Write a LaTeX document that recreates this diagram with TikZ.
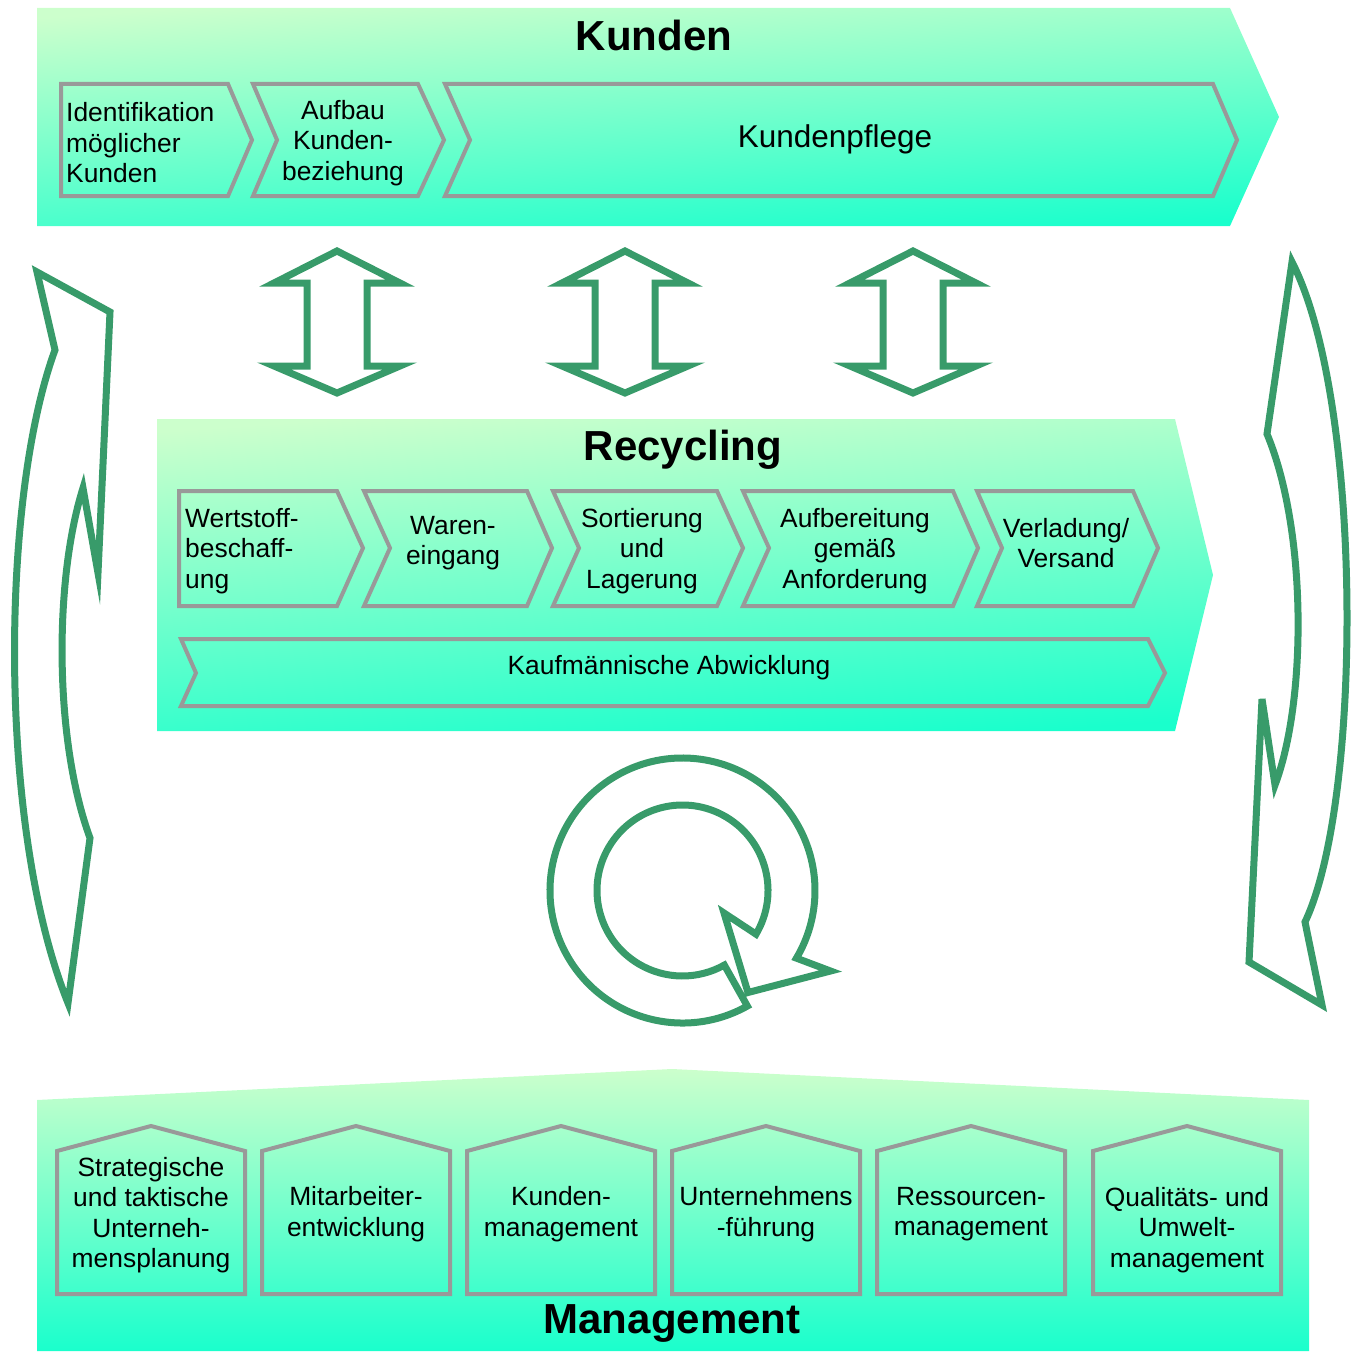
\documentclass[tikz,border=0pt]{standalone}
\usepackage{fontspec}
\setmainfont{Liberation Sans}
\usetikzlibrary{calc}
\definecolor{ringgreen}{RGB}{56,155,106}
\definecolor{boxgray}{RGB}{153,153,153}
\definecolor{bandlight}{RGB}{204,255,204}
\definecolor{banddark}{RGB}{26,255,204}
\tikzset{
	band/.style={top color=bandlight, bottom color=banddark, shading angle=4},
	stepbox/.style={draw=boxgray, line width=4pt, miter limit=10},
	flowarrow/.style={draw=ringgreen, line width=7pt, miter limit=10},
	bandtitle/.style={font=\fontsize{42}{48}\selectfont\bfseries, inner sep=0pt},
	steptext/.style={font=\fontsize{26.4}{30.5}\selectfont, align=center, inner sep=0pt},
}

\begin{document}
\begin{tikzpicture}[x=1pt,y=-1pt]
\useasboundingbox (0,0) rectangle (1356,1351);
% Kunden
\shade[band] (37,8) -- (1230,8) -- (1279,117) -- (1230,226) -- (37,226) -- cycle;
\node[bandtitle] (kunden) at (654,35) {Kunden};
\draw[stepbox] (61,84) -- (228,84) -- (252,140) -- (228,196) -- (61,196) -- cycle;
\draw[stepbox] (253,84) -- (418,84) -- (444,140) -- (418,196) -- (253,196) -- (277,140) -- cycle;
\draw[stepbox] (445,84) -- (1213,84) -- (1237,140) -- (1213,196) -- (445,196) -- (470,140) -- cycle;
\node[steptext, align=left, anchor=west] (ident) at (66,143) {Identifikation\\möglicher\\Kunden};
\node[steptext] (aufbau) at (343,143) {Aufbau\\Kunden-\\beziehung};
\node[steptext, font=\fontsize{31.5}{36}\selectfont] (pflege) at (835,139) {Kundenpflege};
% Pfeile
\foreach \x in {337,625,913}
	\draw[flowarrow] (\x,251) -- (\x+63,283) -- (\x+30,283) -- (\x+30,366) -- (\x+63,366) -- (\x,393)
		-- (\x-63,366) -- (\x-30,366) -- (\x-30,283) -- (\x-63,283) -- cycle;
% Recycling
\shade[band] (157,419) -- (1175,419) -- (1213,575) -- (1175,731) -- (157,731) -- cycle;
\node[bandtitle] (recycling) at (683,450) {Recycling};
\draw[stepbox] (179,491) -- (337,491) -- (363,548) -- (337,606) -- (179,606) -- cycle;
\draw[stepbox] (364,491) -- (527,491) -- (552,548) -- (527,606) -- (364,606) -- (390,548) -- cycle;
\draw[stepbox] (553,491) -- (717,491) -- (743,548) -- (717,606) -- (553,606) -- (579,548) -- cycle;
\draw[stepbox] (743,491) -- (953,491) -- (978,548) -- (953,606) -- (743,606) -- (769,548) -- cycle;
\draw[stepbox] (977,491) -- (1133,491) -- (1158,548) -- (1133,606) -- (977,606) -- (1002,548) -- cycle;
\draw[stepbox] (181,639) -- (1148,639) -- (1165,673) -- (1148,706) -- (181,706) -- (196,673) -- cycle;
\node[steptext, align=left, anchor=west] (wertstoff) at (185,551) {Wertstoff-\\beschaff-\\ung};
\node[steptext] (waren) at (453,543) {Waren-\\eingang};
\node[steptext] (sortierung) at (642,551) {Sortierung\\und\\Lagerung};
\node[steptext] (aufbereitung) at (855,551) {Aufbereitung\\gemäß\\Anforderung};
\node[steptext] (verladung) at (1066,543) {Verladung/\\Versand};
\node[steptext] (kaufm) at (669,668) {Kaufmännische Abwicklung};
% Kreislauf
\draw[flowarrow] (37,272) -- (110,312) -- (98,573) -- (83,488) .. controls (54,580) and (54,740) .. (90,838)
	-- (68,1003) .. controls (-2,830) and (0,500) .. (55,350) -- cycle;
\draw[flowarrow] (1292,262) -- (1267,434) .. controls (1307,530) and (1307,700) .. (1275,785)
	-- (1262,699) -- (1249,962) -- (1322,1005) -- (1305,922) .. controls (1363,800) and (1363,400) .. (1292,262) -- cycle;
\begin{scope}[shift={(682.5,890.5)}]
\draw[flowarrow] (60.7:132.5) arc[start angle=60.7, end angle=390.7, radius=132.5]
	-- (148,80.5) -- (65.5,102) -- (41.5,22.5) -- (30.7:85.5)
	arc[start angle=390.7, end angle=60.7, radius=85.5] -- cycle;
\end{scope}
% Management
\shade[band, shading angle=0] (37,1100) -- (672,1069) -- (1309,1100) -- (1309,1351) -- (37,1351) -- cycle;
\node[bandtitle] (management) at (672,1323) {Management};
\foreach \a/\b in {57/245,262/450,467/655,672/860,877/1065,1093/1281}
	\draw[stepbox] (\a,1294) -- (\a,1151) -- ({(\a+\b)/2},1126) -- (\b,1151) -- (\b,1294) -- cycle;
\node[steptext] (strategie) at (151,1215) {Strategische\\und taktische\\Unterneh-\\mensplanung};
\node[steptext] (mitarbeiter) at (356,1214) {Mitarbeiter-\\entwicklung};
\node[steptext] (kundenmgmt) at (561,1214) {Kunden-\\management};
\node[steptext] (fuehrung) at (766,1214) {Unternehmens\\-führung};
\node[steptext] (ressourcen) at (971,1214) {Ressourcen-\\management};
\node[steptext] (qualitaet) at (1187,1230) {Qualitäts- und\\Umwelt-\\management};
\end{tikzpicture}
\end{document}
